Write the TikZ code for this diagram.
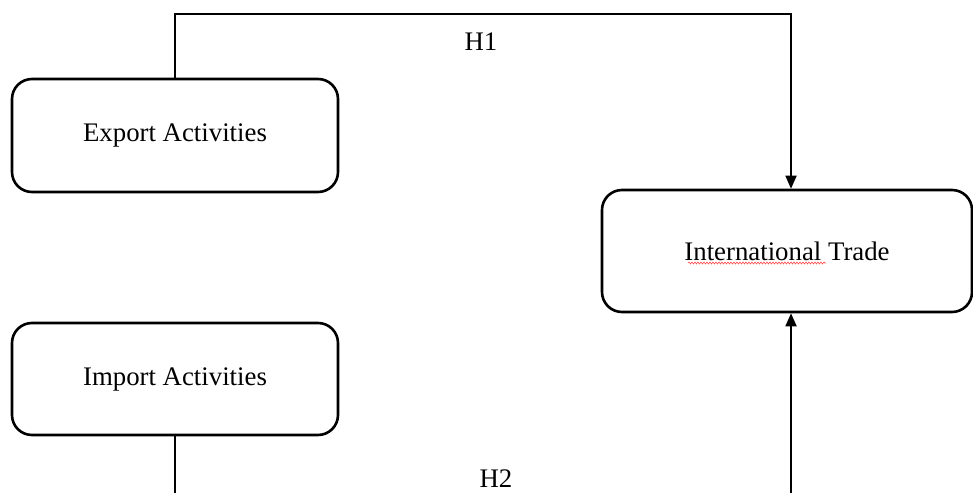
\documentclass[tikz,border=0pt]{standalone}
\usepackage{fontspec}
\setmainfont{Liberation Serif}
\usetikzlibrary{arrows.meta,decorations.pathmorphing}
\tikzset{
  box/.style={draw, line width=2.6pt, rounded corners=20pt, fill=white, inner sep=0pt, font=\fontsize{26.8}{30}\selectfont},
  conn/.style={draw, line width=1.8pt},
  arr/.style={conn, -{Triangle[length=13pt,width=11pt]}},
  lbl/.style={anchor=base, font=\fontsize{26.8}{30}\selectfont, inner sep=0pt}
}
\begin{document}
\begin{tikzpicture}[x=1pt,y=-1pt]
\useasboundingbox (0,0) rectangle (973,492);
\clip (0,0) rectangle (973,492);
\fill[white] (0,0) rectangle (973,492);
\node[box, minimum width=326pt, minimum height=113pt] (exp) at (175,135.5) {Export Activities};
\node[box, minimum width=370pt, minimum height=122pt] (tr) at (787,251) {International Trade};
\node[box, minimum width=326pt, minimum height=112pt] (imp) at (175,379) {Import Activities};
\coordinate (trtop) at ([xshift=4pt]tr.north);
\coordinate (trbot) at ([xshift=4pt]tr.south);
\draw[arr] (exp.north) -- ++(0,-64) -| (trtop);
\draw[arr] (imp.south) -- ++(0,75) -| (trbot);
\node[lbl] (h1) at (481,51) {H1};
\node[lbl] (h2) at (496,487) {H2};
\draw[red!70, line width=0.6pt, decorate, decoration={snake, amplitude=1pt, segment length=3pt}] (688,263) -- (826,263);
\end{tikzpicture}
\end{document}
